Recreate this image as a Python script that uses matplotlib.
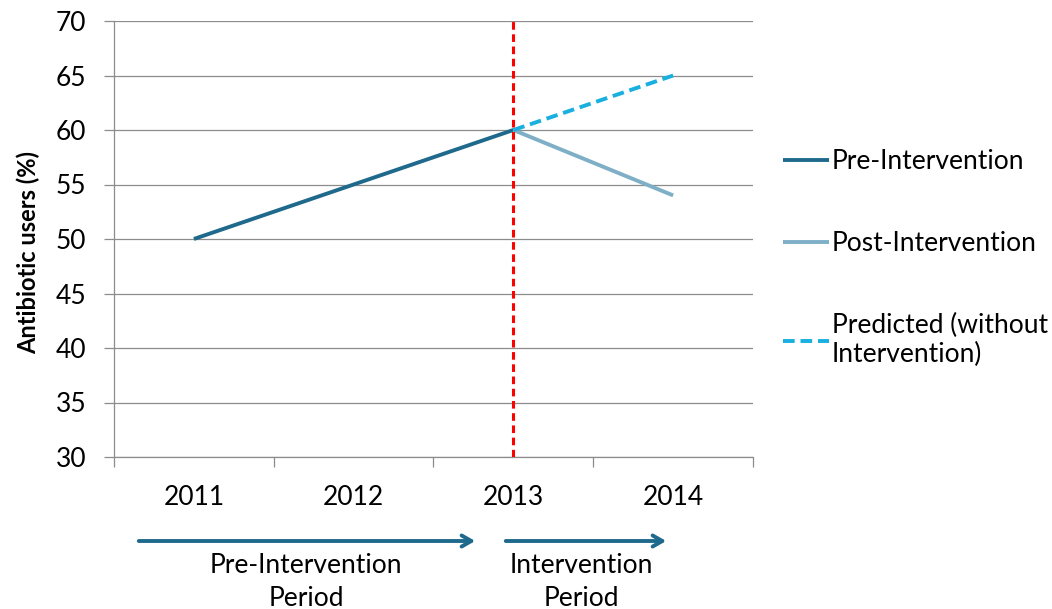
import matplotlib.pyplot as plt
from matplotlib.ticker import FixedLocator

plt.rcParams['font.family'] = ['Lato', 'DejaVu Sans']

# данные
years = ["2011", "2012", "2013", "2014"]
pre_x = [0, 1, 2]
pre_y = [50, 55, 60]
post_x = [2, 3]
post_y = [60, 54]
pred_x = [2, 3]
pred_y = [60, 65]
yticks = [30, 35, 40, 45, 50, 55, 60, 65, 70]

c_pre = "#1F6A8C"
c_post = "#7FAFC6"
c_pred = "#19B0E0"
grid_c = "#8C8C8C"
fs = 19

fig = plt.figure(figsize=(10.52, 6.09), dpi=100)
ax = fig.add_axes([114 / 1052, 1 - 457 / 609, (753 - 114) / 1052, (457 - 21) / 609])

ax.plot(pre_x, pre_y, color=c_pre, lw=2.8, label="Pre-Intervention", solid_capstyle="butt")
ax.plot(post_x, post_y, color=c_post, lw=2.8, label="Post-Intervention", solid_capstyle="butt")
ax.plot(pred_x, pred_y, color=c_pred, lw=2.8, ls=(0, (3, 1.5)), label="Predicted (without\nIntervention)")

# красная линия вмешательства
ax.axvline(2, color="#FF0000", lw=2.2, ls=(0, (2.5, 1.5)), zorder=5)

ax.set_xlim(-0.5, 3.5)
ax.set_ylim(30, 70)
ax.set_yticks(yticks)
ax.yaxis.grid(True, color=grid_c, lw=0.9)
ax.set_axisbelow(True)

ax.set_xticks(range(4))
ax.set_xticklabels(years)
ax.xaxis.set_minor_locator(FixedLocator([-0.5, 0.5, 1.5, 2.5, 3.5]))
ax.tick_params(axis="x", which="major", length=0, pad=20, labelsize=fs)
ax.tick_params(axis="x", which="minor", length=7, color=grid_c, width=0.9)
ax.tick_params(axis="y", length=7, color=grid_c, width=0.9, pad=13, labelsize=fs)

for s in ["top", "right"]:
    ax.spines[s].set_visible(False)
for s in ["left", "bottom"]:
    ax.spines[s].set_color(grid_c)
    ax.spines[s].set_linewidth(0.9)

ax.set_ylabel("Antibiotic users (%)", fontsize=17, fontweight="bold")
ax.yaxis.set_label_coords(-0.115, 0.47)

leg = ax.legend(loc="upper left", bbox_to_anchor=(1.01, 0.76), frameon=False,
                fontsize=fs, handlelength=1.75, handletextpad=0.1, labelspacing=2.15)

# стрелки периодов
arr = dict(arrowstyle="->,head_length=0.7,head_width=0.4", color=c_pre, lw=2.8)
fig.add_artist(plt.Annotation("", xy=(478 / 1052, 1 - 541 / 609), xytext=(136 / 1052, 1 - 541 / 609),
                              xycoords="figure fraction", arrowprops=arr))
fig.add_artist(plt.Annotation("", xy=(669 / 1052, 1 - 541 / 609), xytext=(503 / 1052, 1 - 541 / 609),
                              xycoords="figure fraction", arrowprops=arr))
fig.text(306 / 1052, 1 - 582 / 609, "Pre-Intervention\nPeriod", ha="center", va="center",
         fontsize=fs, linespacing=1.4)
fig.text(581 / 1052, 1 - 582 / 609, "Intervention\nPeriod", ha="center", va="center",
         fontsize=fs, linespacing=1.4)

fig.savefig("out.png", dpi=100)
